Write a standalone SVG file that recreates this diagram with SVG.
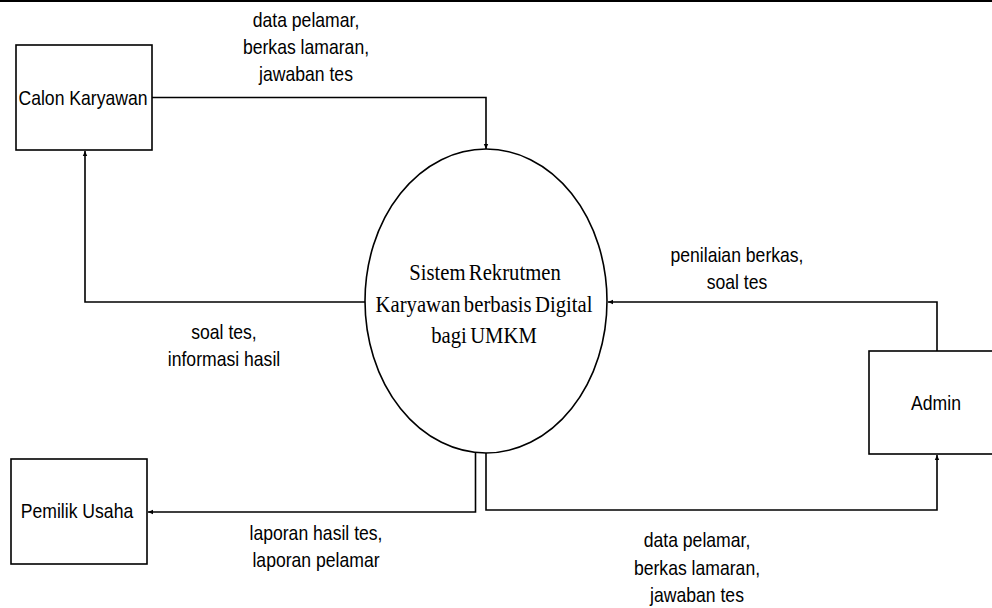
<svg xmlns="http://www.w3.org/2000/svg" width="992" height="608" viewBox="0 0 992 608">
<defs>
<marker id="arr" markerUnits="userSpaceOnUse" markerWidth="6" markerHeight="6" refX="5" refY="3" orient="auto">
<path d="M0,0.8 L5,3 L0,5.2 z" fill="#000"/>
</marker>
<style>
.box{fill:#fff;stroke:#000;stroke-width:1.6}
.conn path{fill:none;stroke:#000;stroke-width:1.6;marker-end:url(#arr)}
.t{font-family:"Liberation Sans",Arial,sans-serif;font-size:20px;fill:#000;text-anchor:middle}
.s{font-family:"Liberation Serif","Times New Roman",serif;font-size:22.5px;fill:#000;text-anchor:middle;word-spacing:-2px}
</style>
</defs>
<rect x="0" y="0" width="992" height="608" fill="#fff"/>
<line x1="0" y1="1" x2="992" y2="1" stroke="#000" stroke-width="2"/>

<g class="conn" id="connectors">
<path d="M152,97.5 H486 V149"/>
<path d="M366,302 H85 V151"/>
<path d="M937,351 V302 H608"/>
<path d="M475.5,453 V512 H148"/>
<path d="M486,453 V510 H937 V455"/>
</g>

<g id="calon-karyawan">
<rect class="box" x="16" y="45" width="136" height="105"/>
<text class="t" transform="translate(83,105) scale(0.88,1)">Calon Karyawan</text>
</g>

<g id="sistem">
<ellipse cx="486" cy="301" rx="121" ry="152" fill="#fff" stroke="#000" stroke-width="1.6"/>
<text class="s" transform="translate(485,280) scale(0.92,1)">Sistem Rekrutmen</text>
<text class="s" transform="translate(484,312) scale(0.92,1)">Karyawan berbasis Digital</text>
<text class="s" transform="translate(484,343) scale(0.92,1)">bagi UMKM</text>
</g>

<g id="admin">
<rect class="box" x="869" y="351" width="140" height="103"/>
<text class="t" transform="translate(936,410) scale(0.88,1)">Admin</text>
</g>

<g id="pemilik-usaha">
<rect class="box" x="11" y="459" width="136" height="105"/>
<text class="t" transform="translate(77,518) scale(0.88,1)">Pemilik Usaha</text>
</g>

<g id="labels">
<text class="t" transform="translate(306,27) scale(0.88,1)">data pelamar,</text>
<text class="t" transform="translate(306,54) scale(0.88,1)">berkas lamaran,</text>
<text class="t" transform="translate(306,81) scale(0.88,1)">jawaban tes</text>

<text class="t" transform="translate(224,339) scale(0.88,1)">soal tes,</text>
<text class="t" transform="translate(224,366) scale(0.88,1)">informasi hasil</text>

<text class="t" transform="translate(737,262) scale(0.88,1)">penilaian berkas,</text>
<text class="t" transform="translate(737,289) scale(0.88,1)">soal tes</text>

<text class="t" transform="translate(316,540) scale(0.88,1)">laporan hasil tes,</text>
<text class="t" transform="translate(316,567) scale(0.88,1)">laporan pelamar</text>

<text class="t" transform="translate(697,547) scale(0.88,1)">data pelamar,</text>
<text class="t" transform="translate(697,575) scale(0.88,1)">berkas lamaran,</text>
<text class="t" transform="translate(697,602) scale(0.88,1)">jawaban tes</text>
</g>
</svg>
